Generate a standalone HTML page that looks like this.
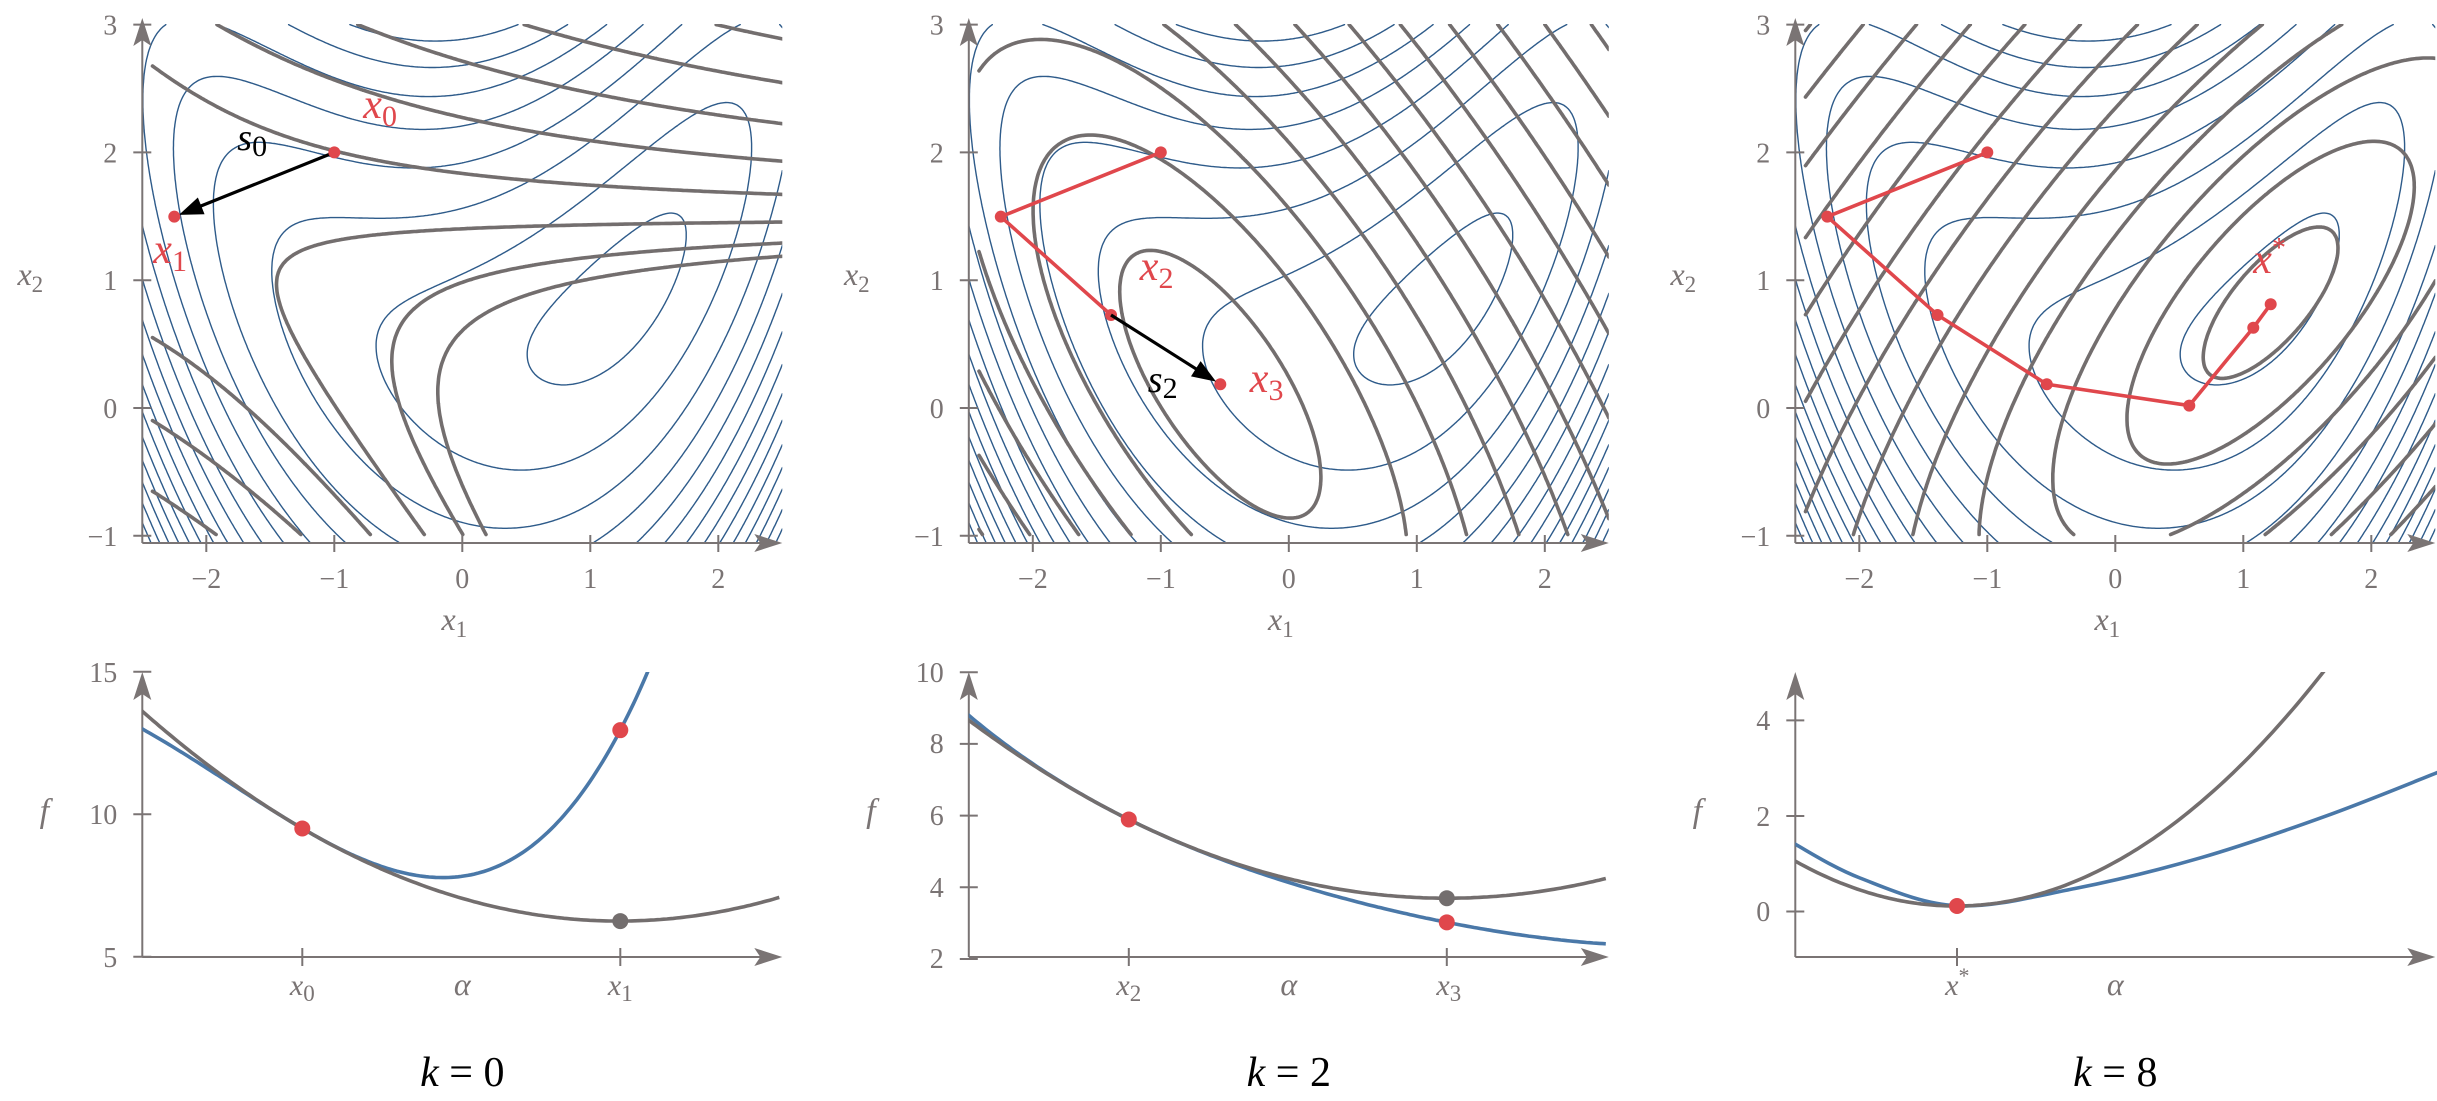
<!DOCTYPE html>
<html><head><meta charset="utf-8">
<style>
body{margin:0;background:#fff}
svg{display:block}
svg text{font-family:"Liberation Serif","Times New Roman",serif}
.tk{fill:#7a7474;font-size:28px}
.gl{fill:#7a7474}
.rd{fill:#e0474c}
</style></head><body>
<svg id="s" width="2437" height="1101" viewBox="0 0 2437 1101" xmlns="http://www.w3.org/2000/svg" font-family="Liberation Serif, serif">
<defs>
<clipPath id="ct"><rect x="-320" y="24" width="640" height="519"/></clipPath>
<clipPath id="cb"><rect x="-320" y="672" width="660" height="285"/></clipPath>
</defs>
<g id="p0" transform="translate(462.3,0)"><g id="c0"></g><g id="a0"></g><g id="t0"></g>
 <text class="rd" x="-99" y="118" font-size="42" font-style="italic">x<tspan font-size="30" font-style="normal" dy="8">0</tspan></text>
 <text x="-225" y="150" font-size="38" font-style="italic" fill="#000">s<tspan font-size="30" font-style="normal" dy="6">0</tspan></text>
 <text class="rd" x="-309" y="263" font-size="42" font-style="italic">x<tspan font-size="30" font-style="normal" dy="8">1</tspan></text>
 <text class="gl" x="-160" y="995" font-size="30" font-style="italic" text-anchor="middle">x<tspan font-size="23" font-style="normal" dy="6">0</tspan></text>
 <text class="gl" x="158" y="995" font-size="30" font-style="italic" text-anchor="middle">x<tspan font-size="23" font-style="normal" dy="6">1</tspan></text>
 <text x="0" y="1086" font-size="42" text-anchor="middle" fill="#000"><tspan font-style="italic">k</tspan> = 0</text>
 <text class="tk" x="-345" y="682" text-anchor="end">15</text>
 <text class="tk" x="-345" y="824" text-anchor="end">10</text>
 <text class="tk" x="-345" y="967" text-anchor="end">5</text>
</g>
<g id="p1" transform="translate(1288.8,0)"><g id="c1"></g><g id="a1"></g><g id="t1"></g>
 <text class="rd" x="-149" y="280" font-size="42" font-style="italic">x<tspan font-size="30" font-style="normal" dy="8">2</tspan></text>
 <text class="rd" x="-39" y="392" font-size="42" font-style="italic">x<tspan font-size="30" font-style="normal" dy="8">3</tspan></text>
 <text x="-141" y="392" font-size="38" font-style="italic" fill="#000">s<tspan font-size="30" font-style="normal" dy="6">2</tspan></text>
 <text class="gl" x="-160" y="995" font-size="30" font-style="italic" text-anchor="middle">x<tspan font-size="23" font-style="normal" dy="6">2</tspan></text>
 <text class="gl" x="160" y="995" font-size="30" font-style="italic" text-anchor="middle">x<tspan font-size="23" font-style="normal" dy="6">3</tspan></text>
 <text x="0" y="1086" font-size="42" text-anchor="middle" fill="#000"><tspan font-style="italic">k</tspan> = 2</text>
 <text class="tk" x="-345" y="682" text-anchor="end">10</text>
 <text class="tk" x="-345" y="753" text-anchor="end">8</text>
 <text class="tk" x="-345" y="825" text-anchor="end">6</text>
 <text class="tk" x="-345" y="897" text-anchor="end">4</text>
 <text class="tk" x="-345" y="968" text-anchor="end">2</text>
</g>
<g id="p2" transform="translate(2115.3,0)"><g id="c2"></g><g id="a2"></g><g id="t2"></g>
 <text class="rd" x="138" y="273" font-size="42" font-style="italic">x<tspan font-size="28" font-style="normal" dy="-16">*</tspan></text>
 <text class="gl" x="-158" y="995" font-size="30" font-style="italic" text-anchor="middle">x<tspan font-size="22" font-style="normal" dy="-12">*</tspan></text>
 <text x="0" y="1086" font-size="42" text-anchor="middle" fill="#000"><tspan font-style="italic">k</tspan> = 8</text>
 <text class="tk" x="-345" y="730" text-anchor="end">4</text>
 <text class="tk" x="-345" y="826" text-anchor="end">2</text>
 <text class="tk" x="-345" y="921" text-anchor="end">0</text>
</g>
</svg>
<script>
(function(){
const F=(x,y)=>(1-x)**2+(1-y)**2+0.5*(2*y-x*x)**2;
const G=(x,y)=>[-2*(1-x)-2*x*(2*y-x*x), -2*(1-y)+2*(2*y-x*x)];
const HS=(x,y)=>[2+4*x*x-2*(2*y-x*x), -4*x, 6];
function model(xk){const f0=F(xk[0],xk[1]),g=G(xk[0],xk[1]),h=HS(xk[0],xk[1]);
 return (x,y)=>{const a=x-xk[0],b=y-xk[1];return f0+g[0]*a+g[1]*b+0.5*(h[0]*a*a+2*h[1]*a*b+h[2]*b*b);};}
const SX=128,SY=127.8,Y0=408;
const px=p=>(p[0]*SX).toFixed(1)+' '+(Y0-p[1]*SY).toFixed(1);
function contour(fn,x0,x1,y0,y1,nx,ny,levels){
 const dx=(x1-x0)/nx,dy=(y1-y0)/ny,V=[];
 for(let j=0;j<=ny;j++){const r=new Float64Array(nx+1);for(let i=0;i<=nx;i++)r[i]=fn(x0+i*dx,y0+j*dy);V.push(r);}
 const d=[];
 for(const L of levels){
  for(let j=0;j<ny;j++)for(let i=0;i<nx;i++){
   const a=V[j][i]-L,b=V[j][i+1]-L,c=V[j+1][i+1]-L,e=V[j+1][i]-L;
   if((a>0)==(b>0)&&(b>0)==(c>0)&&(c>0)==(e>0))continue;
   const X=x0+i*dx,Y=y0+j*dy,p=[];
   if((a>0)!=(b>0)){const t=a/(a-b);p.push([X+t*dx,Y]);}
   if((b>0)!=(c>0)){const t=b/(b-c);p.push([X+dx,Y+t*dy]);}
   if((c>0)!=(e>0)){const t=c/(c-e);p.push([X+dx-t*dx,Y+dy]);}
   if((e>0)!=(a>0)){const t=e/(e-a);p.push([X,Y+dy-t*dy]);}
   for(let k=0;k+1<p.length;k+=2)d.push('M'+px(p[k])+'L'+px(p[k+1]));
  }
 }
 return d.join('');
}
const levels=[0.75];for(let v=3.2;v<110;v+=3.0)levels.push(v);
const glev=[];for(let n=1;n<16;n++)glev.push(0.6*n*n);
const blue=contour(F,-2.5,2.5,-1.06,3.0,330,270,levels);
const xs=[[-1,2],[-2.25,1.497],[-1.389,0.728]];
const g2=G(-1.389,0.728),h2=HS(-1.389,0.728),det=h2[0]*h2[2]-h2[1]*h2[1];
const x3=[-1.389-(h2[2]*g2[0]-h2[1]*g2[1])/det, 0.728-(-h2[1]*g2[0]+h2[0]*g2[1])/det];
const xstar=[1.214,0.812];
const models=[model(xs[0]),model(xs[2]),model(xstar)];
const GR='#736e6e',BL='#2e5b8a',RD='#e0474c',AX='#7a7474';
for(let k=0;k<3;k++){
 const gray=contour(models[k],-2.42,2.5,-0.99,3.0,260,210,glev);
 document.getElementById('c'+k).innerHTML=
  '<g clip-path="url(#ct)"><path d="'+blue+'" stroke="'+BL+'" stroke-width="1.4" fill="none" stroke-linecap="round"/>'+
  '<path d="'+gray+'" stroke="'+GR+'" stroke-width="3.6" fill="none" stroke-linecap="round"/></g>';
}
function axes(){
 let s='<g stroke="'+AX+'" stroke-width="2" fill="none">';
 s+='<line x1="-320" y1="543" x2="-320" y2="30"/><line x1="-320" y1="543" x2="300" y2="543"/>';
 for(let v=-1;v<=3;v++){const y=Y0-v*SY;s+='<line x1="-329" y1="'+y+'" x2="-311" y2="'+y+'"/>';}
 for(let v=-2;v<=2;v++){const x=v*SX;s+='<line x1="'+x+'" y1="535" x2="'+x+'" y2="552"/>';}
 s+='<line x1="-320" y1="957" x2="-320" y2="684"/><line x1="-320" y1="957" x2="300" y2="957"/>';
 s+='</g><g fill="'+AX+'"><polygon points="-320,18 -329,46 -320,40 -311,46"/><polygon points="320,543 292,534 298,543 292,552"/>';
 s+='<polygon points="-320,672 -329,700 -320,694 -311,700"/><polygon points="320,957 292,948 298,957 292,966"/></g>';
 return s;
}
function tickText(){
 let s='';
 for(let v=-1;v<=3;v++){s+='<text class="tk" x="-345" y="'+(Y0-v*SY+10)+'" text-anchor="end">'+(v<0?'\u2212'+(-v):v)+'</text>';}
 for(let v=-2;v<=2;v++){s+='<text class="tk" x="'+(v*SX)+'" y="588" text-anchor="middle">'+(v<0?'\u2212'+(-v):v)+'</text>';}
 s+='<text class="gl" x="-8" y="630" font-size="32" font-style="italic" text-anchor="middle">x<tspan font-size="23" font-style="normal" dy="7">1</tspan></text>';
 s+='<text class="gl" x="-432" y="285" font-size="32" font-style="italic" text-anchor="middle">x<tspan font-size="23" font-style="normal" dy="7">2</tspan></text>';
 s+='<text class="gl" x="-418" y="822" font-size="34" font-style="italic" text-anchor="middle">f</text>';
 s+='<text class="gl" x="0" y="995" font-size="32" font-style="italic" text-anchor="middle">\u03b1</text>';
 return s;
}
function arrow(a,b){
 const x0=a[0]*SX,y0=Y0-a[1]*SY,x1=b[0]*SX,y1=Y0-b[1]*SY;
 const L=Math.hypot(x1-x0,y1-y0),ux=(x1-x0)/L,uy=(y1-y0)/L;
 const tx=x1-ux*5,ty=y1-uy*5,bx=tx-ux*24,by=ty-uy*24;
 return '<line x1="'+x0+'" y1="'+y0+'" x2="'+(bx+ux*2)+'" y2="'+(by+uy*2)+'" stroke="#000" stroke-width="3.2"/>'+
  '<polygon fill="#000" points="'+tx+','+ty+' '+(bx-uy*9)+','+(by+ux*9)+' '+(bx+uy*9)+','+(by-ux*9)+'"/>';
}
function redPath(pts,dots){
 let s='<polyline fill="none" stroke="'+RD+'" stroke-width="3.6" stroke-linejoin="round" points="'+pts.map(p=>(p[0]*SX)+','+(Y0-p[1]*SY)).join(' ')+'"/>';
 for(const p of dots)s+='<circle cx="'+p[0]*SX+'" cy="'+(Y0-p[1]*SY)+'" r="6" fill="'+RD+'"/>';
 return s;
}
function curve(fnY,t0,t1,n,X){let p=[];for(let i=0;i<=n;i++){const t=t0+(t1-t0)*i/n;p.push(X(t).toFixed(1)+','+fnY(t).toFixed(1));}return p.join(' ');}
function linePlot(xk,xn,Yv){
 const d=[xn[0]-xk[0],xn[1]-xk[1]],m=model(xk);
 const fb=t=>Yv(F(xk[0]+t*d[0],xk[1]+t*d[1])),fg=t=>Yv(m(xk[0]+t*d[0],xk[1]+t*d[1]));
 const X=t=>-160+318*t;
 let s='<g clip-path="url(#cb)"><polyline fill="none" stroke="#4a78a8" stroke-width="3.6" points="'+curve(fb,-0.52,1.5,200,X)+'"/>';
 s+='<polyline fill="none" stroke="'+GR+'" stroke-width="3.6" points="'+curve(fg,-0.52,1.5,200,X)+'"/></g>';
 s+='<circle cx="'+X(1)+'" cy="'+fg(1)+'" r="8" fill="'+GR+'"/>';
 s+='<circle cx="'+X(0)+'" cy="'+fb(0)+'" r="8" fill="'+RD+'"/><circle cx="'+X(1)+'" cy="'+fb(1)+'" r="8" fill="'+RD+'"/>';
 s+='<g stroke="'+AX+'" stroke-width="2"><line x1="'+X(0)+'" y1="948" x2="'+X(0)+'" y2="966"/><line x1="'+X(1)+'" y1="948" x2="'+X(1)+'" y2="966"/></g>';
 return s;
}
function ytk(vals){return '<g stroke="'+AX+'" stroke-width="2">'+vals.map(y=>'<line x1="-329" y1="'+y+'" x2="-311" y2="'+y+'"/>').join('')+'</g>';}
let s0=axes()+arrow(xs[0],[xs[1][0],xs[1][1]])+redPath([],[xs[0],xs[1]]);
s0+=linePlot(xs[0],xs[1],v=>956.7-(v-5)*28.5)+ytk([671.7,814.2,956.7]);
document.getElementById('a0').innerHTML=s0;
let s1=axes()+redPath([xs[0],xs[1],xs[2]],[xs[0],xs[1],xs[2],x3])+arrow(xs[2],x3);
s1+=linePlot(xs[2],x3,v=>959-(v-2)*35.84)+ytk([672.3,743.9,815.6,887.3,959]);
document.getElementById('a1').innerHTML=s1;
const path3=[xs[0],xs[1],xs[2],x3,[0.578,0.019],[1.078,0.628],xstar];
let s2=axes()+redPath(path3,path3);
const O=2115.3;
const bpts=[[1793,843],[1860,878],[1957,905.8],[2074.9,888.5],[2201,857.7],[2327.6,815.4],[2440,771.5]].map(p=>[p[0]-O,p[1]]);
function cr(P){let d='M'+P[0][0]+' '+P[0][1];for(let i=0;i<P.length-1;i++){const p0=P[Math.max(0,i-1)],p1=P[i],p2=P[i+1],p3=P[Math.min(P.length-1,i+2)];
 d+='C'+(p1[0]+(p2[0]-p0[0])/6)+' '+(p1[1]+(p2[1]-p0[1])/6)+' '+(p2[0]-(p3[0]-p1[0])/6)+' '+(p2[1]-(p3[1]-p1[1])/6)+' '+p2[0]+' '+p2[1];}return d;}
let gp=[];for(let x=1793;x<=2340;x+=4){gp.push((x-O).toFixed(1)+','+(906-0.001735*(x-1956)*(x-1956)).toFixed(1));}
s2+='<g clip-path="url(#cb)"><path d="'+cr(bpts)+'" fill="none" stroke="#4a78a8" stroke-width="3.6"/><polyline fill="none" stroke="'+GR+'" stroke-width="3.6" points="'+gp.join(' ')+'"/></g>';
s2+='<circle cx="'+(1957-O)+'" cy="906" r="8" fill="'+RD+'"/>';
s2+='<g stroke="'+AX+'" stroke-width="2"><line x1="'+(1957-O)+'" y1="948" x2="'+(1957-O)+'" y2="966"/></g>'+ytk([720.4,816,911.5]);
document.getElementById('a2').innerHTML=s2;
for(let k=0;k<3;k++)document.getElementById('t'+k).innerHTML=tickText();
})();
</script>
</body></html>
